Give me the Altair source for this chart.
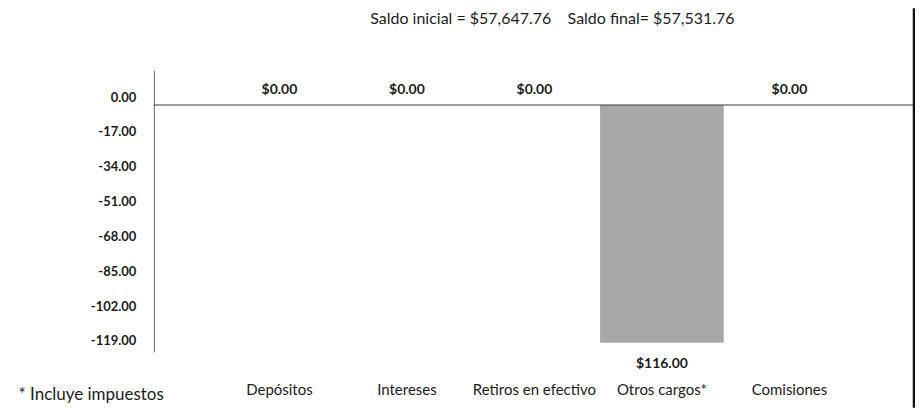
import altair as alt
import pandas as pd

categories = ["Depósitos", "Intereses", "Retiros en efectivo", "Otros cargos*", "Comisiones"]
values = [0.0, 0.0, 0.0, -116.0, 0.0]
tick_values = [0, -17, -34, -51, -68, -85, -102, -119]
title_text = "Saldo inicial = $57,647.76\u00a0\u00a0\u00a0 Saldo final= $57,531.76"
note_text = "* Incluye impuestos"

df = pd.DataFrame({"cat": categories, "val": values})

FONT = "Lato, Roboto, sans-serif"
INK = "#1c1c1c"
Y_DOMAIN = [-120.4, 17]

x = alt.X(
    "cat:N",
    sort=categories,
    scale=alt.Scale(paddingInner=0.03, paddingOuter=0.5),
    axis=alt.Axis(
        title=note_text, titleX=-136, titleY=43, titleAlign="left", titleBaseline="middle",
        titleFont=FONT, titleFontSize=17, titleFontWeight="normal", titleColor=INK,
        domain=False, ticks=False, labelPadding=31, labelAngle=0,
        labelFont=FONT, labelFontSize=15, labelColor=INK, labelFontWeight="normal",
    ),
)
y = alt.Y(
    "val:Q",
    scale=alt.Scale(domain=Y_DOMAIN, nice=False, zero=False),
    axis=alt.Axis(
        title=None, values=tick_values, grid=False, ticks=False,
        labelExpr="(datum.value < 0 ? '-' : '') + format(abs(datum.value), '.2f')",
        domainColor="#666666", domainWidth=1, labelPadding=18, labelOffset=-8,
        labelFont=FONT, labelFontSize=13, labelFontWeight="bold", labelColor=INK,
    ),
)

base = alt.Chart(df)
bars = base.mark_bar(color="#a8a8a7").encode(x=x, y=y)
zero_line = alt.Chart(pd.DataFrame({"z": [0]})).mark_rule(color="#3a3a3a", strokeWidth=1.2).encode(
    y=alt.Y("z:Q", scale=alt.Scale(domain=Y_DOMAIN, nice=False, zero=False))
)
lab_zero = base.transform_filter("datum.val >= 0").transform_calculate(
    lab="'$' + format(abs(datum.val), '.2f')"
).mark_text(dy=-15, font=FONT, fontSize=14, fontWeight="bold", color=INK).encode(x=x, y=y, text="lab:N")
lab_neg = base.transform_filter("datum.val < 0").transform_calculate(
    lab="'$' + format(abs(datum.val), '.2f')"
).mark_text(dy=21, font=FONT, fontSize=14, fontWeight="bold", color=INK).encode(x=x, y=y, text="lab:N")

# right-hand frame line of the statement box
frame = alt.Chart(pd.DataFrame({"f": [0]})).mark_rule(color="#111111", strokeWidth=2.5).encode(
    x=alt.value(761), y=alt.value(-62), y2=alt.value(338)
)

chart = alt.layer(bars, zero_line, lab_zero, lab_neg, frame).properties(
    width=762, height=282,
    autosize=alt.AutoSizeParams(type="none"),
    padding={"left": 146, "top": 62, "right": 0, "bottom": 56},
    title=alt.TitleParams(title_text, font=FONT, fontSize=16, fontWeight="normal", color=INK,
                          offset=-20, dx=18, anchor="middle", frame="group"),
).configure(background="white").configure_view(stroke=None)

chart.save("out.html", embed_options={"renderer": "svg", "actions": False})
